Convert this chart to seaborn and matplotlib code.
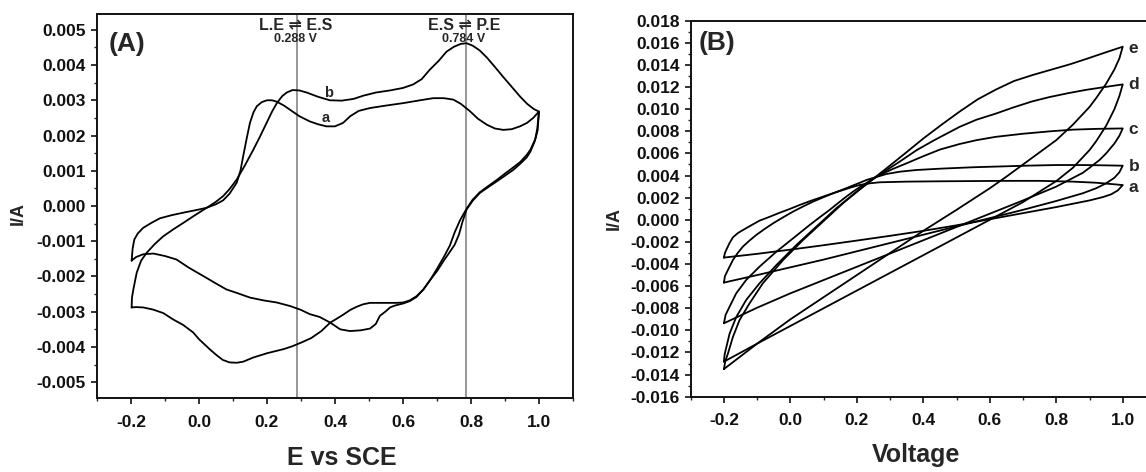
import numpy as np
import pandas as pd
import matplotlib
matplotlib.use("Agg")
import matplotlib.pyplot as plt
from matplotlib.ticker import MultipleLocator, FormatStrFormatter
import seaborn as sns

# ---------------- Panel A: CV of curves a and b (E vs SCE, current in mA) ----------------
cvA_a_E = [-0.198, -0.195, -0.19, -0.18, -0.164, -0.14, -0.115, -0.08, -0.046, 0.0, 0.023, 0.05,
           0.071, 0.09, 0.111, 0.122, 0.13, 0.14, 0.15, 0.16, 0.17, 0.185, 0.2, 0.215, 0.229, 0.25,
           0.268, 0.295, 0.326, 0.35, 0.375, 0.4, 0.424, 0.445, 0.47, 0.503, 0.55, 0.601, 0.65,
           0.689, 0.72, 0.748, 0.77, 0.797, 0.82, 0.846, 0.87, 0.895, 0.92, 0.944, 0.965, 0.983, 1.0,
           0.995, 0.988, 0.975, 0.964, 0.945, 0.925, 0.9, 0.876, 0.85, 0.826, 0.805, 0.787, 0.775,
           0.765, 0.752, 0.738, 0.72, 0.7, 0.68, 0.66, 0.64, 0.62, 0.6, 0.591, 0.575, 0.562, 0.548,
           0.532, 0.52, 0.503, 0.475, 0.444, 0.415, 0.386, 0.355, 0.326, 0.3, 0.268, 0.229, 0.19,
           0.15, 0.115, 0.081, 0.05, 0.013, -0.03, -0.066, -0.1, -0.134, -0.164, -0.185, -0.198]
cvA_a_mA = [-1.55, -1.2, -0.95, -0.78, -0.62, -0.48, -0.35, -0.26, -0.19, -0.10, -0.05, 0.05,
            0.16, 0.35, 0.66, 1.0, 1.41, 1.9, 2.36, 2.65, 2.83, 2.95, 3.0, 3.0, 2.96, 2.85,
            2.73, 2.55, 2.40, 2.32, 2.26, 2.26, 2.36, 2.55, 2.7, 2.78, 2.85, 2.92, 3.0,
            3.06, 3.06, 3.02, 2.9, 2.69, 2.48, 2.31, 2.2, 2.16, 2.18, 2.26, 2.36, 2.5, 2.68,
            2.2, 1.85, 1.55, 1.38, 1.2, 1.03, 0.86, 0.70, 0.53, 0.37, 0.15, -0.10, -0.45,
            -0.8, -1.1, -1.3, -1.55, -1.85, -2.1, -2.37, -2.58, -2.7, -2.77, -2.79, -2.83, -2.88, -3.0,
            -3.12, -3.35, -3.48, -3.53, -3.55, -3.5, -3.31, -3.15, -3.07, -2.95, -2.84, -2.74, -2.68,
            -2.6, -2.48, -2.37, -2.2, -1.99, -1.75, -1.52, -1.42, -1.35, -1.37, -1.45, -1.55]

cvA_b_E = [-0.198, -0.197, -0.193, -0.183, -0.17, -0.154, -0.13, -0.105, -0.075, -0.046, -0.01,
           0.023, 0.05, 0.071, 0.09, 0.111, 0.135, 0.16, 0.18, 0.199, 0.215, 0.229, 0.245, 0.258,
           0.275, 0.295, 0.317, 0.35, 0.385, 0.42, 0.455, 0.483, 0.52, 0.562, 0.6, 0.63, 0.655,
           0.679, 0.705, 0.728, 0.75, 0.77, 0.787, 0.805, 0.825, 0.846, 0.87, 0.895, 0.92, 0.944,
           0.965, 0.985, 1.0,
           0.996, 0.99, 0.975, 0.964, 0.945, 0.925, 0.9, 0.876, 0.85, 0.826, 0.805, 0.787, 0.768,
           0.752, 0.738, 0.72, 0.699, 0.68, 0.66, 0.64, 0.62, 0.6, 0.581, 0.55, 0.503, 0.483, 0.464,
           0.445, 0.425, 0.405, 0.386, 0.36, 0.33, 0.3, 0.275, 0.25, 0.2, 0.16, 0.13, 0.111, 0.09,
           0.07, 0.05, 0.032, 0.0, -0.017, -0.046, -0.076, -0.105, -0.135, -0.164, -0.185, -0.198]
cvA_b_mA = [-2.88, -2.6, -2.37, -1.89, -1.55, -1.33, -1.08, -0.86, -0.66, -0.48, -0.25,
            -0.05, 0.12, 0.28, 0.48, 0.75, 1.15, 1.6, 1.98, 2.36, 2.68, 2.92, 3.12, 3.22,
            3.29, 3.28, 3.22, 3.1, 3.0, 2.99, 3.04, 3.13, 3.22, 3.28, 3.35, 3.45, 3.6,
            3.87, 4.12, 4.38, 4.52, 4.6, 4.62, 4.55, 4.42, 4.22, 3.95, 3.66, 3.38, 3.11,
            2.9, 2.75, 2.68,
            2.15, 1.92, 1.6, 1.45, 1.25, 1.1, 0.92, 0.74, 0.56, 0.39, 0.18, -0.08, -0.40,
            -0.75, -1.12, -1.45, -1.80, -2.1, -2.37, -2.56, -2.68, -2.74, -2.75, -2.75, -2.75, -2.79, -2.86,
            -2.95, -3.08, -3.2, -3.31, -3.55, -3.75, -3.88, -3.98, -4.06, -4.18, -4.3, -4.42, -4.45, -4.44,
            -4.37, -4.22, -4.07, -3.78, -3.59, -3.38, -3.22, -3.04, -2.94, -2.88, -2.87, -2.88]

# Potentials marked by the reference lines
marker_E = [0.288, 0.784]
marker_top = ["L.E \u21cc E.S", "E.S \u21cc P.E"]
marker_bottom = ["0.288 V", "0.784 V"]

# ---------------- Panel B: CVs a-e (Voltage, current in mA) ----------------
cvB_E = {
    "a": [-0.2, -0.197, -0.193, -0.183, -0.173, -0.158, -0.143, -0.118, -0.093, -0.06, -0.032, 0.0,
          0.028, 0.06, 0.098, 0.13, 0.158, 0.185, 0.209, 0.24, 0.269, 0.35, 0.45, 0.55, 0.65, 0.75,
          0.85, 0.92, 0.97, 1.0,
          0.985, 0.965, 0.94, 0.9, 0.85, 0.8, 0.7, 0.6, 0.5, 0.4, 0.3, 0.2, 0.1, 0.0, -0.1, -0.2],
    "b": [-0.2, -0.197, -0.188, -0.173, -0.158, -0.143, -0.123, -0.103, -0.078, -0.052, -0.022,
          0.008, 0.038, 0.068, 0.098, 0.128, 0.155, 0.179, 0.205, 0.229, 0.26, 0.289, 0.33, 0.379,
          0.45, 0.55, 0.63, 0.72, 0.8, 0.88, 0.95, 1.0,
          0.99, 0.975, 0.95, 0.92, 0.88, 0.8, 0.7, 0.6, 0.5, 0.4, 0.3, 0.2, 0.1, 0.0, -0.1, -0.2],
    "c": [-0.2, -0.195, -0.183, -0.163, -0.133, -0.093, -0.042, 0.008, 0.058, 0.088, 0.118, 0.143,
          0.168, 0.193, 0.219, 0.244, 0.269, 0.31, 0.349, 0.4, 0.45, 0.509, 0.56, 0.618, 0.7, 0.782,
          0.85, 0.92, 1.0,
          0.99, 0.975, 0.95, 0.93, 0.9, 0.88, 0.8, 0.7, 0.6, 0.5, 0.4, 0.3, 0.2, 0.1, 0.0, -0.1, -0.2],
    "d": [-0.2, -0.198, -0.195, -0.183, -0.163, -0.133, -0.093, -0.042, 0.018, 0.078, 0.138, 0.199,
          0.259, 0.329, 0.38, 0.433, 0.509, 0.56, 0.618, 0.67, 0.727, 0.78, 0.836, 0.89, 0.945, 1.0,
          0.99, 0.975, 0.95, 0.92, 0.9, 0.85, 0.8, 0.7, 0.6, 0.5, 0.4, 0.3, 0.2, 0.1, 0.0, -0.1, -0.2],
    "e": [-0.2, -0.196, -0.188, -0.173, -0.153, -0.123, -0.083, -0.022, 0.038, 0.098, 0.158, 0.219,
          0.289, 0.349, 0.4, 0.455, 0.51, 0.564, 0.62, 0.673, 0.73, 0.782, 0.84, 0.891, 0.945, 1.0,
          0.99, 0.975, 0.95, 0.92, 0.9, 0.85, 0.8, 0.7, 0.65, 0.6, 0.5, 0.4, 0.3, 0.2, 0.1, 0.0,
          -0.1, -0.2],
}
cvB_mA = {
    "a": [-3.42, -3.0, -2.73, -2.1, -1.59, -1.2, -0.93, -0.5, -0.08, 0.3, 0.64, 1.0,
          1.34, 1.7, 2.09, 2.42, 2.69, 2.95, 3.15, 3.3, 3.39, 3.45, 3.48, 3.5, 3.52, 3.52,
          3.45, 3.35, 3.22, 3.14,
          2.65, 2.3, 2.05, 1.75, 1.45, 1.15, 0.6, 0.05, -0.5, -1.0, -1.45, -1.88, -2.3, -2.7, -3.08, -3.42],
    "b": [-5.68, -5.1, -4.54, -3.64, -2.98, -2.43, -1.88, -1.38, -0.84, -0.32, 0.22,
          0.74, 1.2, 1.64, 2.02, 2.39, 2.7, 2.99, 3.3, 3.6, 3.88, 4.14, 4.35, 4.5,
          4.62, 4.75, 4.82, 4.9, 4.95, 4.95, 4.92, 4.89,
          4.3, 3.8, 3.3, 2.85, 2.4, 1.7, 0.9, 0.15, -0.6, -1.35, -2.1, -2.85, -3.6, -4.3, -5.0, -5.68],
    "c": [-9.36, -8.6, -7.86, -6.65, -5.44, -4.24, -2.88, -1.68, -0.47, 0.22, 0.89, 1.5,
          2.09, 2.64, 3.15, 3.62, 4.05, 4.62, 5.1, 5.75, 6.35, 6.85, 7.2, 7.5, 7.78, 8.0,
          8.15, 8.22, 8.26,
          7.6, 6.9, 6.0, 5.4, 4.7, 4.25, 3.0, 1.75, 0.55, -0.65, -1.85, -3.05, -4.25, -5.45, -6.65, -7.95, -9.36],
    "d": [-12.83, -12.2, -11.8, -10.3, -8.8, -7.25, -5.75, -4.09, -2.28, -0.62, 1.04, 2.54,
          3.9, 5.26, 6.3, 7.2, 8.4, 9.05, 9.6, 10.15, 10.7, 11.1, 11.45, 11.75, 12.0, 12.24,
          11.2, 10.0, 8.5, 7.1, 6.3, 4.7, 3.5, 1.6, 0.0, -1.6, -3.2, -4.8, -6.4, -8.0, -9.6, -11.2, -12.83],
    "e": [-13.5, -12.8, -12.1, -10.6, -9.07, -7.56, -5.75, -3.64, -1.83, -0.17, 1.49, 2.99,
          4.65, 6.1, 7.35, 8.6, 9.8, 10.9, 11.8, 12.55, 13.1, 13.55, 14.05, 14.55, 15.1, 15.65,
          14.6, 13.6, 12.3, 11.0, 10.2, 8.6, 7.2, 5.0, 3.9, 2.85, 0.9, -1.0, -3.0, -5.0, -7.0, -9.0,
          -11.2, -13.5],
}
cvB_labels = ["a", "b", "c", "d", "e"]
cvB_label_mA = [2.9, 4.85, 8.2, 12.2, 15.5]

# ---------------- styling ----------------
sns.set_style("ticks")
plt.rcParams["font.family"] = ["Liberation Sans", "DejaVu Sans"]
plt.rcParams["font.weight"] = "bold"
plt.rcParams["axes.unicode_minus"] = False
plt.rcParams["axes.linewidth"] = 1.4
plt.rcParams["axes.edgecolor"] = "#111111"

fig = plt.figure(figsize=(11.46, 4.72), dpi=100)
axA = fig.add_axes([0.0846, 0.1568, 0.4154, 0.8136])
axB = fig.add_axes([0.6027, 0.1595, 0.4060, 0.7966])

line_kw = dict(sort=False, estimator=None, color="black", linewidth=1.3)

# Panel A curves
for E, I in [(cvA_a_E, cvA_a_mA), (cvA_b_E, cvA_b_mA)]:
    df = pd.DataFrame({"E": E, "I": np.asarray(I) * 1e-3})
    sns.lineplot(data=df, x="E", y="I", ax=axA, **line_kw)

for xv, top, bot in zip(marker_E, marker_top, marker_bottom):
    axA.axvline(xv, color="#7a7a7a", linewidth=1.1, zorder=1)
    axA.text(xv - 0.005, 0.00513, top, ha="center", va="center", fontsize=11.5, fontweight="bold",
             family=["Liberation Sans", "DejaVu Sans"])
    axA.text(xv - 0.005, 0.00474, bot, ha="center", va="center", fontsize=9, fontweight="bold")

axA.text(0.38, 0.00322, "b", ha="center", va="center", fontsize=10.5, fontweight="bold")
axA.text(0.373, 0.00250, "a", ha="center", va="center", fontsize=10.5, fontweight="bold")

axA.set_xlim(-0.3, 1.1)
axA.set_ylim(-0.00545, 0.00545)
axA.set_xticks(np.arange(-0.2, 1.01, 0.2))
axA.xaxis.set_minor_locator(MultipleLocator(0.1))
axA.set_yticks(np.arange(-0.005, 0.00501, 0.001))
axA.yaxis.set_minor_locator(MultipleLocator(0.0005))
axA.xaxis.set_major_formatter(FormatStrFormatter("%.1f"))
axA.yaxis.set_major_formatter(FormatStrFormatter("%.3f"))
axA.text(0.025, 0.923, "(A)", transform=axA.transAxes, ha="left", va="center",
         fontsize=19, fontweight="bold")
axA.set_xlabel("E vs SCE", fontsize=18, fontweight="bold")
axA.set_ylabel("I/A", fontsize=13, fontweight="bold")
axA.xaxis.set_label_coords(0.514, -0.156)
axA.xaxis.label.set_verticalalignment("center")
axA.yaxis.set_label_coords(-0.166, 0.48)
axA.yaxis.label.set_verticalalignment("center")

# Panel B curves
for key in cvB_labels:
    df = pd.DataFrame({"E": cvB_E[key], "I": np.asarray(cvB_mA[key]) * 1e-3})
    sns.lineplot(data=df, x="E", y="I", ax=axB, **line_kw)
for lab, yv in zip(cvB_labels, cvB_label_mA):
    axB.text(1.017, yv * 1e-3, lab, ha="left", va="center", fontsize=12.5, fontweight="bold")

axB.set_xlim(-0.3, 1.1)
axB.set_ylim(-0.016, 0.018)
axB.set_xticks(np.arange(-0.2, 1.01, 0.2))
axB.xaxis.set_minor_locator(MultipleLocator(0.1))
axB.set_yticks(np.arange(-0.016, 0.01801, 0.002))
axB.yaxis.set_minor_locator(MultipleLocator(0.001))
axB.xaxis.set_major_formatter(FormatStrFormatter("%.1f"))
axB.yaxis.set_major_formatter(FormatStrFormatter("%.3f"))
axB.text(0.018, 0.94, "(B)", transform=axB.transAxes, ha="left", va="center",
         fontsize=19, fontweight="bold")
axB.set_xlabel("Voltage", fontsize=18, fontweight="bold")
axB.set_ylabel("I/A", fontsize=13, fontweight="bold")
axB.xaxis.set_label_coords(0.484, -0.155)
axB.xaxis.label.set_verticalalignment("center")
axB.yaxis.set_label_coords(-0.165, 0.475)
axB.yaxis.label.set_verticalalignment("center")

for ax in (axA, axB):
    for s in ax.spines.values():
        s.set_visible(True)
    ax.tick_params(which="major", direction="out", length=4, width=1.2, pad=4,
                   labelsize=12.5, colors="#111111")
    ax.tick_params(which="minor", direction="out", length=2.5, width=1.0)
    ax.tick_params(axis="x", which="major", pad=8)
    for t in ax.get_xticklabels() + ax.get_yticklabels():
        t.set_fontweight("bold")

fig.savefig("out.png", dpi=100)
